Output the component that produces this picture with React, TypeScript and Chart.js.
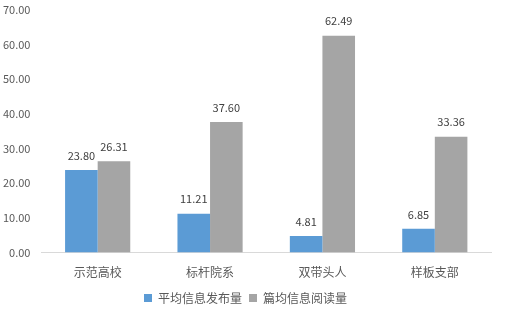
import React, { useEffect, useRef } from "react";
import { Chart, registerables } from "chart.js";

Chart.register(...registerables);

const categories = ["示范高校", "标杆院系", "双带头人", "样板支部"];
const seriesNames = ["平均信息发布量", "篇均信息阅读量"];
const publishAvg = [23.8, 11.21, 4.81, 6.85];
const readAvg = [26.31, 37.6, 62.49, 33.36];
const colors = ["#5B9BD5", "#A5A5A5"];

const FONT = "'Noto Sans CJK SC', 'DejaVu Sans', sans-serif";

const valueLabels = {
  id: "valueLabels",
  afterDatasetsDraw(chart: any) {
    const ctx = chart.ctx;
    ctx.save();
    ctx.font = `11px ${FONT}`;
    ctx.fillStyle = "#404040";
    ctx.textAlign = "center";
    ctx.textBaseline = "bottom";
    chart.data.datasets.forEach((ds: any, i: number) => {
      const meta = chart.getDatasetMeta(i);
      meta.data.forEach((bar: any, j: number) => {
        ctx.fillText(Number(ds.data[j]).toFixed(2), bar.x, bar.y - 9);
      });
    });
    ctx.restore();
  },
};

export default function App() {
  const ref = useRef<HTMLCanvasElement>(null);
  useEffect(() => {
    document.body.style.margin = "0";
    const chart = new Chart(ref.current!, {
      type: "bar",
      data: {
        labels: categories,
        datasets: [
          { label: seriesNames[0], data: publishAvg, backgroundColor: colors[0] },
          { label: seriesNames[1], data: readAvg, backgroundColor: colors[1] },
        ],
      },
      options: {
        animation: false,
        responsive: false,
        layout: { padding: { left: 0, right: 14, top: 5, bottom: 1 } },
        datasets: { bar: { categoryPercentage: 0.58, barPercentage: 1 } },
        scales: {
          x: {
            grid: { display: false },
            border: { color: "#D9D9D9" },
            ticks: { color: "#595959", padding: 5, font: { family: FONT, size: 12 } },
          },
          y: {
            min: 0,
            max: 70,
            grid: { display: false },
            border: { display: false },
            ticks: {
              stepSize: 10,
              color: "#595959",
              font: { family: FONT, size: 11 },
              callback: (v: any) => Number(v).toFixed(2),
            },
          },
        },
        plugins: {
          legend: {
            position: "bottom",
            labels: {
              boxWidth: 8,
              boxHeight: 8,
              padding: 7,
              color: "#595959",
              font: { family: FONT, size: 12 },
            },
          },
          tooltip: { enabled: false },
        },
      },
      plugins: [valueLabels],
    });
    return () => chart.destroy();
  }, []);
  return (
    <div style={{ width: 505, height: 315, background: "#fff" }}>
      <canvas ref={ref} width={505} height={315} />
    </div>
  );
}
